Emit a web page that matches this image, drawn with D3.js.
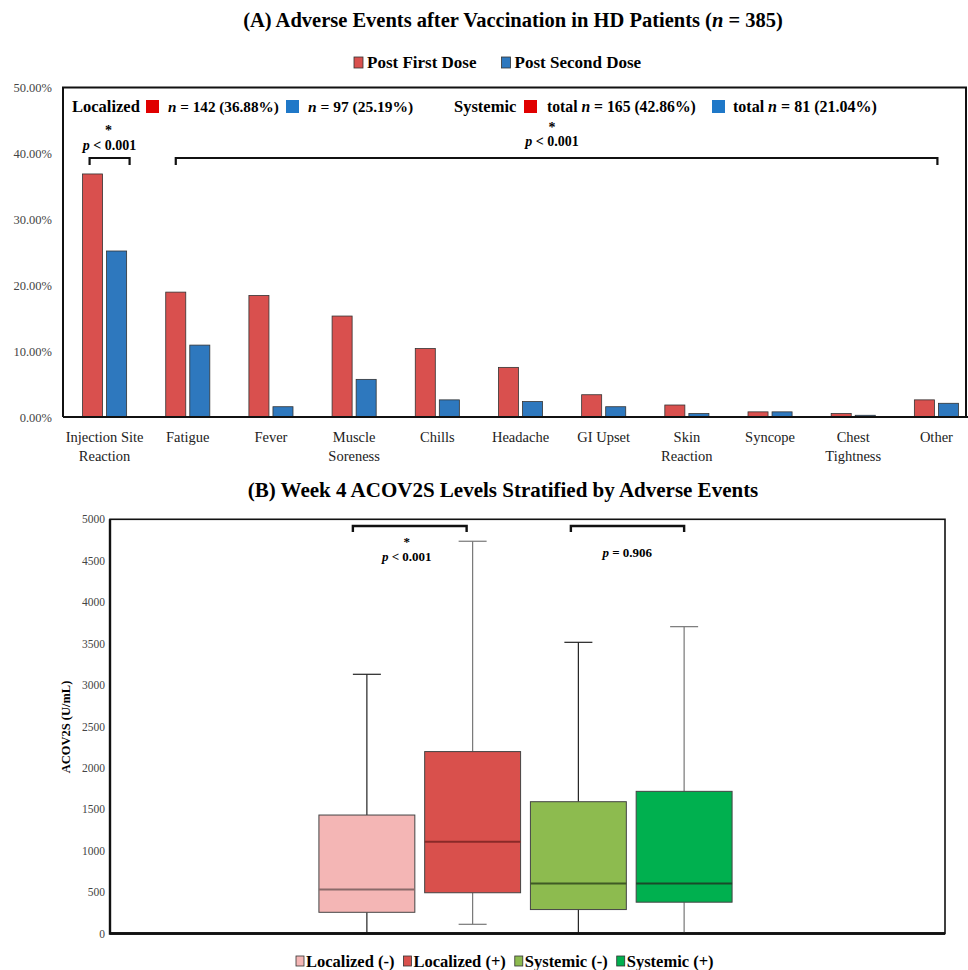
<!DOCTYPE html>
<html>
<head>
<meta charset="utf-8">
<script src="https://cdn.jsdelivr.net/npm/d3@7"></script>
<style>
  html, body { margin: 0; padding: 0; background: #fff; }
  svg { display: block; font-family: "Liberation Serif", "Times New Roman", serif; }
</style>
</head>
<body>
<svg id="chart" width="968" height="970"></svg>
<script>
// ---------- Panel A data ----------
const categories = ["Injection Site\nReaction", "Fatigue", "Fever", "Muscle\nSoreness", "Chills",
  "Headache", "GI Upset", "Skin\nReaction", "Syncope", "Chest\nTightness", "Other"];
const seriesNames = ["Post First Dose", "Post Second Dose"];
const firstDose = [36.88, 18.95, 18.44, 15.32, 10.39, 7.53, 3.38, 1.82, 0.78, 0.52, 2.60];
const secondDose = [25.19, 10.91, 1.56, 5.71, 2.60, 2.34, 1.56, 0.52, 0.78, 0.26, 2.08];
const yTicksA = [0, 10, 20, 30, 40, 50];

// ---------- Panel B data ----------
const groups = ["Localized (-)", "Localized (+)", "Systemic (-)", "Systemic (+)"];
const whiskerMin = [0, 111, 0, 0];
const q1 = [256, 492, 289, 378];
const median = [530, 1108, 603, 603];
const q3 = [1430, 2196, 1591, 1716];
const whiskerMax = [3129, 4735, 3515, 3704];
const yTicksB = [0, 500, 1000, 1500, 2000, 2500, 3000, 3500, 4000, 4500, 5000];

const svg = d3.select("#chart");

// ================= PANEL A =================
const barColors = ["#d9504e", "#2e78be"];
const xA = d3.scaleBand().domain(categories).range([63, 978]).paddingInner(0.47).paddingOuter(0.235);
const xA1 = d3.scaleBand().domain(seriesNames).range([0, xA.bandwidth()]).paddingInner(0.167);
const yA = d3.scaleLinear().domain([0, 50]).range([417, 87.5]);

svg.append("text").attr("x", 513).attr("y", 27).attr("text-anchor", "middle")
  .attr("font-size", 20.5).attr("font-weight", "bold")
  .call(t => {
    t.append("tspan").text("(A) Adverse Events after Vaccination in HD Patients (");
    t.append("tspan").attr("font-style", "italic").text("n");
    t.append("tspan").text(" = 385)");
  });

// top legend
const legA = svg.append("g");
let lax = 354;
seriesNames.forEach((name, i) => {
  legA.append("rect").attr("x", lax).attr("y", 57).attr("width", 9).attr("height", 11)
    .attr("fill", barColors[i]).attr("stroke", "#333").attr("stroke-width", 0.8);
  const t = legA.append("text").attr("x", lax + 13).attr("y", 68).attr("font-size", 17).attr("font-weight", "bold")
    .text(name);
  lax += 13 + t.node().getComputedTextLength() + 25;
});

// frame
svg.append("path").attr("d", `M63,${yA(0)}V87.5H966V${yA(0)}`).attr("fill", "none")
  .attr("stroke", "#111").attr("stroke-width", 2);

// y axis tick labels
const axA = svg.append("g").attr("transform", "translate(63,0)")
  .call(d3.axisLeft(yA).tickValues(yTicksA).tickSize(0).tickPadding(11).tickFormat(d => d.toFixed(2) + "%"));
axA.select(".domain").remove();
axA.selectAll("text").attr("font-family", "Liberation Serif").attr("font-size", 12.5).attr("fill", "#444");

// bars
const barG = svg.append("g");
categories.forEach((c, i) => {
  [firstDose[i], secondDose[i]].forEach((v, j) => {
    barG.append("rect")
      .attr("x", xA(c) + xA1(seriesNames[j]))
      .attr("y", yA(v))
      .attr("width", xA1.bandwidth())
      .attr("height", yA(0) - yA(v))
      .attr("fill", barColors[j]).attr("stroke", "#333").attr("stroke-width", 0.8);
  });
});
// baseline
svg.append("line").attr("x1", 63).attr("x2", 968).attr("y1", yA(0)).attr("y2", yA(0))
  .attr("stroke", "#111").attr("stroke-width", 2);

// x labels
categories.forEach(c => {
  const lines = c.split("\n");
  const t = svg.append("text").attr("x", xA(c) + xA.bandwidth() / 2).attr("y", 442)
    .attr("text-anchor", "middle").attr("font-size", 14.5).attr("fill", "#222");
  lines.forEach((l, k) => t.append("tspan").attr("x", xA(c) + xA.bandwidth() / 2).attr("dy", k ? 19 : 0).text(l));
});

// in-box legend row
function rowText(x, y, parts, size) {
  const t = svg.append("text").attr("x", x).attr("y", y).attr("font-size", size).attr("font-weight", "bold");
  parts.forEach(p => t.append("tspan").attr("font-style", p.it ? "italic" : null).text(p.s));
  return t;
}
const rowY = 112;
rowText(72, rowY, [{s: "Localized"}], 16.5);
svg.append("rect").attr("x", 146).attr("y", 100).attr("width", 13).attr("height", 13).attr("fill", "#e00000");
rowText(168, rowY, [{s: "n", it: 1}, {s: " = 142 (36.88%)"}], 15.2);
svg.append("rect").attr("x", 286).attr("y", 100).attr("width", 13).attr("height", 13).attr("fill", "#1f78c8");
rowText(308, rowY, [{s: "n", it: 1}, {s: " = 97 (25.19%)"}], 15.5);
rowText(454, rowY, [{s: "Systemic"}], 16.5);
svg.append("rect").attr("x", 524).attr("y", 100).attr("width", 13).attr("height", 13).attr("fill", "#e00000");
rowText(547, rowY, [{s: "total "}, {s: "n", it: 1}, {s: " =  165 (42.86%)"}], 15.7);
svg.append("rect").attr("x", 712).attr("y", 100).attr("width", 13).attr("height", 13).attr("fill", "#1f78c8");
rowText(733, rowY, [{s: "total "}, {s: "n", it: 1}, {s: " =  81 (21.04%)"}], 16);

// significance brackets A
function bracket(x1, x2, y, h, w) {
  svg.append("path").attr("d", `M${x1},${y + h}V${y}H${x2}V${y + h}`)
    .attr("fill", "none").attr("stroke", "#111").attr("stroke-width", w);
}
function pText(x, y, rest, size) {
  const t = svg.append("text").attr("x", x).attr("y", y).attr("text-anchor", "middle").attr("font-size", size).attr("font-weight", "bold");
  t.append("tspan").attr("font-style", "italic").text("p");
  t.append("tspan").text(rest);
}
const cA0 = xA(categories[0]) + xA.bandwidth() / 2;
const cA1 = xA(categories[1]) + xA.bandwidth() / 2;
const cA10 = xA(categories[10]) + xA.bandwidth() / 2;
bracket(cA0 - 15, cA0 + 25, 158, 7, 2.2);
svg.append("text").attr("x", cA0 + 4).attr("y", 135).attr("text-anchor", "middle").attr("font-size", 14).attr("font-weight", "bold").text("*");
pText(cA0 + 5, 150, " < 0.001", 14);
bracket(cA1 - 12, cA10 + 1, 158, 7, 2.2);
svg.append("text").attr("x", 552).attr("y", 132).attr("text-anchor", "middle").attr("font-size", 14).attr("font-weight", "bold").text("*");
pText(552, 146, " < 0.001", 14);

// ================= PANEL B =================
const boxColors = ["#f4b6b5", "#d9504c", "#8dbb4f", "#00b04f"];
const medColors = ["#8a6a6a", "#8a2a28", "#3f5a25", "#1a4a2a"];
const whiskColors = ["#222", "#777", "#222", "#777"];
const xB = d3.scaleBand().domain(groups).range([314, 737]).paddingInner(0.093).paddingOuter(0.0465);
const yB = d3.scaleLinear().domain([0, 5000]).range([933.5, 519.3]);

svg.append("text").attr("x", 503).attr("y", 497).attr("text-anchor", "middle")
  .attr("font-size", 21).attr("font-weight", "bold")
  .text("(B) Week 4 ACOV2S Levels Stratified by Adverse Events");

// frame
svg.append("rect").attr("x", 110).attr("y", yB(5000)).attr("width", 945 - 110).attr("height", yB(0) - yB(5000))
  .attr("fill", "none").attr("stroke", "#111").attr("stroke-width", 1.6);
svg.append("path").attr("d", `M110,${yB(5000)}V${yB(0)}H945`).attr("fill", "none").attr("stroke", "#111").attr("stroke-width", 2.4);

const axB = svg.append("g").attr("transform", "translate(110,0)")
  .call(d3.axisLeft(yB).tickValues(yTicksB).tickSize(0).tickPadding(5).tickFormat(d3.format("d")));
axB.select(".domain").remove();
axB.selectAll("text").attr("font-family", "Liberation Serif").attr("font-size", 11.5).attr("fill", "#444");

svg.append("text").attr("transform", "translate(70,727) rotate(-90)").attr("text-anchor", "middle")
  .attr("font-size", 12.5).attr("font-weight", "bold").text("ACOV2S (U/mL)");

// boxes
groups.forEach((g, i) => {
  const cx = xB(g) + xB.bandwidth() / 2;
  const bw = xB.bandwidth();
  const G = svg.append("g");
  G.append("line").attr("x1", cx).attr("x2", cx).attr("y1", yB(whiskerMax[i])).attr("y2", yB(q3[i]))
    .attr("stroke", whiskColors[i]).attr("stroke-width", 1.2);
  G.append("line").attr("x1", cx).attr("x2", cx).attr("y1", yB(q1[i])).attr("y2", yB(whiskerMin[i]))
    .attr("stroke", whiskColors[i]).attr("stroke-width", 1.2);
  [whiskerMax[i], whiskerMin[i]].forEach(v => {
    G.append("line").attr("x1", cx - 14).attr("x2", cx + 14).attr("y1", yB(v)).attr("y2", yB(v))
      .attr("stroke", whiskColors[i]).attr("stroke-width", 1.2);
  });
  G.append("rect").attr("x", xB(g)).attr("y", yB(q3[i])).attr("width", bw).attr("height", yB(q1[i]) - yB(q3[i]))
    .attr("fill", boxColors[i]).attr("stroke", "#444").attr("stroke-width", 1);
  G.append("line").attr("x1", xB(g)).attr("x2", xB(g) + bw).attr("y1", yB(median[i])).attr("y2", yB(median[i]))
    .attr("stroke", medColors[i]).attr("stroke-width", 2);
});
// redraw bottom axis line on top
svg.append("line").attr("x1", 110).attr("x2", 945).attr("y1", yB(0)).attr("y2", yB(0)).attr("stroke", "#111").attr("stroke-width", 2.4);

// brackets B
const cB = groups.map(g => xB(g) + xB.bandwidth() / 2);
bracket(cB[0] - 14, cB[1] - 6, 526, 6, 2.4);
svg.append("text").attr("x", (cB[0] + cB[1]) / 2 - 13).attr("y", 546).attr("text-anchor", "middle").attr("font-size", 13).attr("font-weight", "bold").text("*");
pText((cB[0] + cB[1]) / 2 - 13, 561, " < 0.001", 13);
bracket(cB[2] - 7.5, cB[3], 526, 6, 2.4);
pText((cB[2] + cB[3]) / 2 - 4, 557, " = 0.906", 13);

// bottom legend
const legB = svg.append("g");
let lx = 296;
groups.forEach((g, i) => {
  legB.append("rect").attr("x", lx).attr("y", 956).attr("width", 8).attr("height", 10)
    .attr("fill", boxColors[i]).attr("stroke", "#333").attr("stroke-width", 0.8);
  const t = legB.append("text").attr("x", lx + 10).attr("y", 967).attr("font-size", 16.5).attr("font-weight", "bold").text(g);
  lx += 10 + t.node().getComputedTextLength() + 9;
});
</script>
</body>
</html>
